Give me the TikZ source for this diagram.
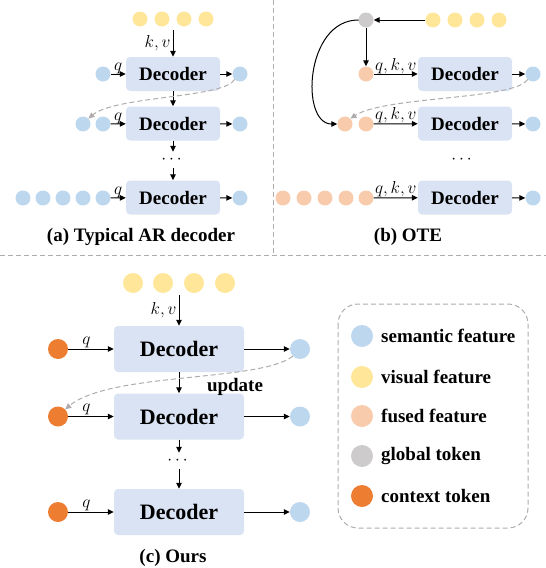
\documentclass[tikz,border=0pt]{standalone}
\usepackage{fontspec}
\setmainfont{Liberation Serif}
\usepackage{amsmath}
\usepackage{xcolor}
\usepackage{tikz}
\usetikzlibrary{arrows.meta}
\usetikzlibrary{positioning}
\definecolor{semblue}{HTML}{BDD7EE}
\definecolor{visyellow}{HTML}{FFE699}
\definecolor{fusedpink}{HTML}{F8CBAD}
\definecolor{globgray}{HTML}{CDCBCB}
\definecolor{ctxorange}{HTML}{ED7D31}
\definecolor{decfill}{HTML}{DAE3F3}
\definecolor{dashgray}{HTML}{AFABAB}

\begin{document}
\begin{tikzpicture}[x=1pt, y=-1pt,
    dot/.style={circle, inner sep=0pt, minimum size=15pt},
    bigdot/.style={circle, inner sep=0pt, minimum size=20pt},
    legdot/.style={circle, inner sep=0pt, minimum size=22pt},
    dec/.style={rounded corners=4pt, fill=decfill, minimum width=94pt, minimum height=34pt,
        font=\fontsize{19}{20}\selectfont\bfseries},
    bigdec/.style={dec, minimum width=130pt, minimum height=46pt,
        font=\fontsize{22}{24}\selectfont\bfseries},
    arr/.style={line width=1pt, -{Triangle[length=6pt, width=5.5pt]}},
    upd/.style={line width=1pt, dashgray, dash pattern=on 5pt off 3pt,
        -{Triangle[length=6pt, width=5.5pt]}},
    lbl/.style={font=\fontsize{17}{18}\selectfont, inner sep=2pt},
    captext/.style={font=\fontsize{19}{20}\selectfont\bfseries},
    ell/.style={inner sep=0pt, minimum height=16pt, font=\fontsize{17}{18}\selectfont}]
    \useasboundingbox (0,0) rectangle (546,568);

    % Separators
    \draw[dashgray, line width=1pt, dash pattern=on 5pt off 3pt] (273,0) -- (273,255);
    \draw[dashgray, line width=1pt, dash pattern=on 5pt off 3pt] (0,255) -- (546,255);

    % (a) Typical AR decoder
    \foreach \i/\x in {1/140, 2/162, 3/184, 4/206}
        \node[dot, fill=visyellow] (av\i) at (\x,19) {};
    \coordinate (akv) at (173,30);
    \node[dec] (ad1) at (173,74) {Decoder};
    \node[dec] (ad2) at (173,123.5) {Decoder};
    \node[ell] (adots) at (173,160) {$\cdots$};
    \node[dec] (ad3) at (173,197.5) {Decoder};
    \node[dot, fill=semblue] (aq1) at (103,74) {};
    \node[dot, fill=semblue] (a2l1) at (83,124) {};
    \node[dot, fill=semblue] (a2l2) at (103,124) {};
    \foreach \i/\x in {1/23, 2/43, 3/63, 4/83, 5/103}
        \node[dot, fill=semblue] (a3l\i) at (\x,198) {};
    \foreach \i/\y in {1/74, 2/124, 3/198}
        \node[dot, fill=semblue] (ao\i) at (240,\y) {};
    \draw[arr] (akv) -- (ad1.north) node[lbl, midway, left] {$k,v$};
    \draw[arr] (aq1) -- (ad1) node[lbl, midway, above, yshift=-2pt] {$q$};
    \draw[arr] (a2l2) -- (ad2) node[lbl, midway, above, yshift=-2pt] {$q$};
    \draw[arr] (a3l5) -- (ad3) node[lbl, midway, above, yshift=-2pt] {$q$};
    \foreach \i in {1,2,3}
        \draw[arr] (ad\i) -- (ao\i);
    \draw[arr] (ad1) -- (ad2);
    \draw[arr] (ad2) -- (adots);
    \draw[arr] (adots) -- (ad3);
    \draw[upd] (ao1.south west) .. controls (225,98) and (115,96) .. (a2l1.north east);
    \node[captext] (acap) at (141,237) {(a) Typical AR decoder};

    % (b) OTE
    \node[dot, fill=globgray] (bg) at (366,20) {};
    \foreach \i/\x in {1/433, 2/455, 3/477, 4/499}
        \node[dot, fill=visyellow] (bv\i) at (\x,20) {};
    \node[dot, fill=fusedpink] (bf1) at (366,74) {};
    \node[dot, fill=fusedpink] (b2l1) at (345,124) {};
    \node[dot, fill=fusedpink] (b2l2) at (366,124) {};
    \foreach \i/\x in {1/283, 2/304, 3/325, 4/346, 5/366}
        \node[dot, fill=fusedpink] (b3l\i) at (\x,198) {};
    \node[dec] (bd1) at (465,74) {Decoder};
    \node[dec] (bd2) at (465,123.5) {Decoder};
    \node[ell] (bdots) at (463,160) {$\cdots$};
    \node[dec] (bd3) at (465,197.5) {Decoder};
    \foreach \i/\y in {1/74, 2/124, 3/198}
        \node[dot, fill=semblue] (bo\i) at (533,\y) {};
    \draw[arr] (bv1) -- (bg);
    \draw[arr] (bg) -- (bf1);
    \draw[arr, line cap=round] (bg.west) .. controls (305,20) and (300,124) .. (b2l1.west);
    \draw[arr] (bf1) -- (bd1) node[lbl, midway, above, yshift=-2pt] {$q,k,v$};
    \draw[arr] (b2l2) -- (bd2) node[lbl, midway, above, yshift=-2pt] {$q,k,v$};
    \draw[arr] (b3l5) -- (bd3) node[lbl, midway, above, yshift=-2pt] {$q,k,v$};
    \foreach \i in {1,2,3}
        \draw[arr] (bd\i) -- (bo\i);
    \draw[upd] (bo1.south west) .. controls (515,100) and (385,96) .. (b2l1.north east);
    \node[captext] (bcap) at (408,237) {(b) OTE};

    % (c) Ours
    \foreach \i/\x in {1/133, 2/163, 3/194, 4/225}
        \node[bigdot, fill=visyellow] (cv\i) at (\x,283) {};
    \coordinate (ckv) at (179,295);
    \node[bigdec] (cd1) at (179,349) {Decoder};
    \node[bigdec] (cd2) at (179,416.5) {Decoder};
    \node[ell] (cdots) at (179,461) {$\cdots$};
    \node[bigdec] (cd3) at (179,512) {Decoder};
    \foreach \i/\y in {1/349, 2/416.5, 3/512} {
        \node[bigdot, fill=ctxorange] (cc\i) at (58,\y) {};
        \node[bigdot, fill=semblue] (co\i) at (300,\y) {};
    }
    \draw[arr] (ckv) -- (cd1.north) node[lbl, midway, left] {$k,v$};
    \foreach \i in {1,2,3} {
        \draw[arr] (cc\i) -- (cd\i) node[lbl, pos=0.4, above, yshift=-1pt] {$q$};
        \draw[arr] (cd\i) -- (co\i);
    }
    \draw[arr] (cd1) -- (cd2);
    \draw[arr] (cd2) -- (cdots);
    \draw[arr] (cdots) -- (cd3);
    \draw[upd] (co1.south west) .. controls (260,382) and (110,372) .. (cc2.north east);
    \node[captext] (cupd) at (235,387) {update};
    \node[captext] (ccap) at (173,558) {(c) Ours};

    % Legend
    \draw[dashgray, line width=1pt, dash pattern=on 5pt off 3pt, rounded corners=20pt]
        (338,304) rectangle (528,528);
    \foreach \i/\y/\c/\t in {1/336/semblue/semantic feature, 2/377/visyellow/visual feature,
        3/416/fusedpink/fused feature, 4/456/globgray/global token, 5/496/ctxorange/context token} {
        \node[legdot, fill=\c] (ld\i) at (362,\y) {};
        \node[captext, anchor=west, inner sep=0pt] (lt\i) at (381,\y) {\t};
    }
\end{tikzpicture}
\end{document}
